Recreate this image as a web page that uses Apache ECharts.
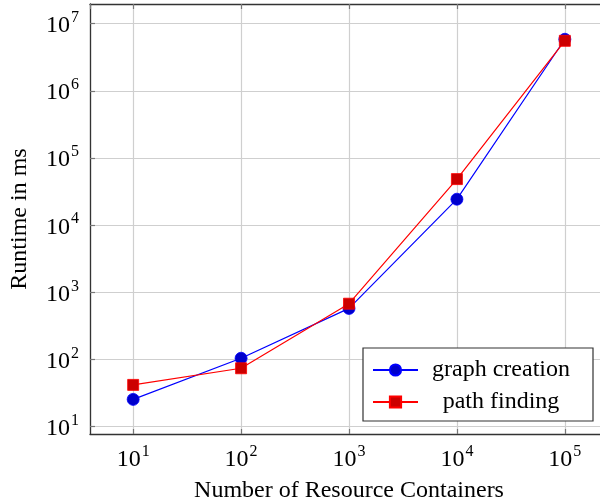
<!DOCTYPE html>
<html>
<head>
<meta charset="utf-8">
<script src="https://cdn.jsdelivr.net/npm/echarts@6/dist/echarts.min.js"></script>
<style>
html,body{margin:0;padding:0;background:#fff;}
#chart{width:600px;height:504px;}
</style>
</head>
<body>
<div id="chart"></div>
<script>
// Data
var containers = [10, 100, 1000, 10000, 100000];
var graphCreation = [25.5, 104.5, 577, 24400, 5870000];
var pathFinding = [41.9, 74.1, 678, 48600, 5570000];
var seriesNames = ['graph creation', 'path finding'];
var xTitle = 'Number of Resource Containers';
var yTitle = 'Runtime in ms';

function pairs(xs, ys) {
  return xs.map(function (x, i) { return [x, ys[i]]; });
}

var FONT = '"Liberation Serif", "Times New Roman", serif';

function powLabel(v) {
  var e = Math.log10(v);
  var r = Math.round(e);
  if (Math.abs(e - r) > 1e-6) return '';
  return '{b|10}{s|' + r + '}';
}
var richLabel = {
  b: { fontFamily: FONT, fontSize: 24, color: '#000', lineHeight: 28, verticalAlign: 'bottom' },
  s: { fontFamily: FONT, fontSize: 16, color: '#000', verticalAlign: 'top', lineHeight: 20, padding: [0, 0, 0, 1] }
};

var tickStyle = { show: true, inside: true, length: 5, lineStyle: { color: '#777', width: 1.2 } };
var gridLine = { show: true, lineStyle: { color: '#cfcfcf', width: 1.2 } };
var borderLine = { show: true, lineStyle: { color: '#333', width: 1.3 } };

var X_MIN = Math.pow(10, 0.6), X_MAX = Math.pow(10, 5.4);
var Y_MIN = Math.pow(10, 0.891), Y_MAX = Math.pow(10, 7.294);

var chart = echarts.init(document.getElementById('chart'), null, { renderer: 'canvas' });
chart.setOption({
  animation: false,
  backgroundColor: '#fff',
  grid: {
    left: 90, top: 4, width: 518, height: 430,
    show: false,
    containLabel: false,
    outerBoundsMode: 'none'
  },
  legend: {
    orient: 'vertical',
    left: 363, top: 348,
    padding: [10, 14, 7, 9],
    itemGap: 8,
    itemWidth: 45, itemHeight: 14,
    backgroundColor: '#fff',
    borderColor: '#333', borderWidth: 1.2,
    data: seriesNames,
    formatter: function (n) { return '{t|' + n + '}'; },
    textStyle: {
      rich: { t: { fontFamily: FONT, fontSize: 24, color: '#000', width: 156, align: 'center', lineHeight: 26 } }
    }
  },
  xAxis: [{
    type: 'log', logBase: 10,
    min: X_MIN, max: X_MAX,
    position: 'bottom',
    name: xTitle, nameLocation: 'middle', nameGap: 45,
    nameTextStyle: { fontFamily: FONT, fontSize: 24, color: '#000' },
    axisLine: borderLine,
    axisTick: tickStyle,
    minorTick: { show: false },
    splitLine: gridLine,
    axisLabel: { formatter: powLabel, rich: richLabel, margin: 10, showMinLabel: false, showMaxLabel: false }
  }, {
    type: 'log', logBase: 10,
    min: X_MIN, max: X_MAX,
    position: 'top',
    axisLine: borderLine,
    axisTick: tickStyle,
    splitLine: { show: false },
    axisLabel: { show: false }
  }],
  yAxis: [{
    type: 'log', logBase: 10,
    min: Y_MIN, max: Y_MAX,
    position: 'left',
    name: yTitle, nameLocation: 'middle', nameGap: 58,
    nameTextStyle: { fontFamily: FONT, fontSize: 24, color: '#000' },
    axisLine: borderLine,
    axisTick: tickStyle,
    splitLine: gridLine,
    axisLabel: { formatter: powLabel, rich: richLabel, margin: 11, showMinLabel: false, showMaxLabel: false }
  }],
  series: [{
    name: seriesNames[0],
    type: 'line',
    data: pairs(containers, graphCreation),
    symbol: 'circle', symbolSize: 12,
    lineStyle: { color: '#0000ff', width: 1.2 },
    itemStyle: { color: '#0000cc', borderColor: '#0000ff', borderWidth: 0.8 },
    z: 3
  }, {
    name: seriesNames[1],
    type: 'line',
    data: pairs(containers, pathFinding),
    symbol: 'rect', symbolSize: 11,
    lineStyle: { color: '#ff0000', width: 1.2 },
    itemStyle: { color: '#cc0000', borderColor: '#ff0000', borderWidth: 0.8 },
    z: 4
  }]
});
</script>
</body>
</html>
